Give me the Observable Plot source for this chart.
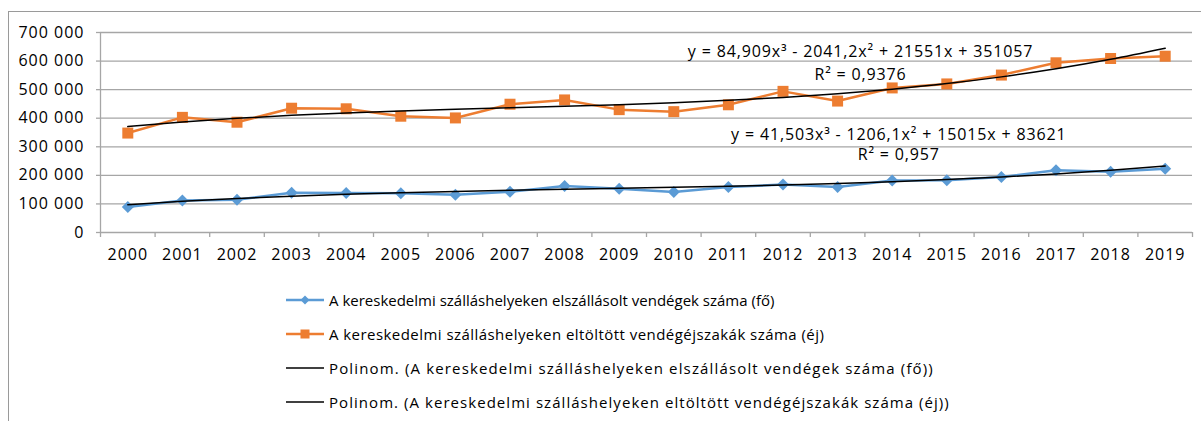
<!DOCTYPE html>
<html><head><meta charset="utf-8">
<script src="https://cdn.jsdelivr.net/npm/d3@7"></script>
<script src="https://cdn.jsdelivr.net/npm/@observablehq/plot@0.6"></script>
<style>
html,body{margin:0;padding:0;background:#fff}
body{width:1201px;height:421px;overflow:hidden;position:relative;font-family:"Open Sans",sans-serif;color:#000}
#frame{position:absolute;left:8px;top:11px;width:1300px;height:500px;border-left:1.3px solid #9a9a9a;border-top:1.3px solid #9a9a9a;box-sizing:border-box}
#chart{position:absolute;left:0;top:0}
#chart svg text{letter-spacing:1px}
#chart svg g[aria-label="text"] text{letter-spacing:0.85px}
.row{position:absolute;left:285px;height:24px;display:flex;align-items:center;white-space:nowrap;font-size:15px}
.row svg{margin-right:4px;flex:none}
</style></head>
<body>
<div id="frame"></div>
<div id="chart"></div>
<div id="legend"></div>
<script>
const years = [2000,2001,2002,2003,2004,2005,2006,2007,2008,2009,2010,2011,2012,2013,2014,2015,2016,2017,2018,2019];
const guests = [89000,112000,115000,139000,138000,137000,132000,143000,163000,153000,142000,159000,168000,159000,182000,183000,194000,218000,213000,223000];
const nights = [348000,403000,386000,435000,433000,407000,401000,449000,464000,430000,423000,447000,494000,460000,506000,520000,551000,594000,609000,617000];
const guestsTrend = [97470,109160,118930,127040,133730,139260,143860,147800,151320,154660,158090,161840,166170,171320,177550,185100,194220,205160,218170,232990];
const nightsTrend = [370650,386670,399630,410040,418400,425220,431020,436300,441580,447360,454150,462460,472800,485690,501620,521110,544680,572820,606040,644870];
const yTicks = [0,100000,200000,300000,400000,500000,600000,700000];
const seriesNames = [
  "A kereskedelmi szálláshelyeken elszállásolt vendégek száma (fő)",
  "A kereskedelmi szálláshelyeken eltöltött vendégéjszakák száma (éj)",
  "Polinom. (A kereskedelmi szálláshelyeken elszállásolt vendégek száma (fő))",
  "Polinom. (A kereskedelmi szálláshelyeken eltöltött vendégéjszakák száma (éj))"
];
const equations = [
  {text:"y = 84,909x³ - 2041,2x² + 21551x + 351057", r2:"R² = 0,9376"},
  {text:"y = 41,503x³ - 1206,1x² + 15015x + 83621", r2:"R² = 0,957"}
];

const rows = years.map((y,i)=>({year:y, guests:guests[i], nights:nights[i], gt:guestsTrend[i], nt:nightsTrend[i]}));
const bounds = years.map(y=>y-0.5).concat([years[years.length-1]+0.5]);
const fmt = d3.formatLocale({thousands:"\u00a0", grouping:[3], decimal:","}).format(",");
const BLUE="#5b9bd5", ORANGE="#ed7d31", GRID="#a6a6a6";

// annotation placement (data units)
const eqPos = [
  {x:2013.42, y:632000, y2:550000},
  {x:2014.12, y:343000, y2:270000}
];
const eqRows = equations.map((e,i)=>({...e, ...eqPos[i]}));

const plot = Plot.plot({
  width:1201, height:270,
  marginLeft:100, marginRight:9, marginTop:32, marginBottom:38,
  x:{domain:[1999.5,2019.5]},
  y:{domain:[0,700000]},
  style:{fontFamily:"Open Sans", fontSize:"16px", background:"transparent", color:"#000"},
  marks:[
    Plot.gridY(yTicks.slice(1), {stroke:GRID, strokeOpacity:1, strokeWidth:1.3}),
    Plot.ruleX([1999.5], {y1:0, y2:700000, stroke:GRID, strokeWidth:1.3}),
    Plot.ruleY([0], {stroke:GRID, strokeWidth:1.3}),
    Plot.axisY(yTicks, {tickSize:4, tickPadding:12, stroke:GRID, strokeWidth:1.3, fill:"#000", tickFormat:fmt, label:null}),
    Plot.axisX(bounds, {tickSize:5, stroke:GRID, strokeWidth:1.3, tickFormat:()=>"", label:null}),
    Plot.axisX(years, {tickSize:0, tickPadding:16, fill:"#000", tickFormat:d=>String(d), label:null}),
    Plot.line(rows, {x:"year", y:"guests", stroke:BLUE, strokeWidth:2.5}),
    Plot.dot(rows, {x:"year", y:"guests", symbol:"diamond2", r:5.4, fill:BLUE, stroke:null}),
    Plot.line(rows, {x:"year", y:"nights", stroke:ORANGE, strokeWidth:2.5}),
    Plot.dot(rows, {x:"year", y:"nights", symbol:"square", r:6.2, fill:ORANGE, stroke:null}),
    Plot.line(rows, {x:"year", y:"gt", stroke:"#000", strokeWidth:1.5, curve:"monotone-x"}),
    Plot.line(rows, {x:"year", y:"nt", stroke:"#000", strokeWidth:1.5, curve:"monotone-x"}),
    Plot.text(eqRows, {x:"x", y:"y", text:"text", fontSize:16, fill:"#000", textAnchor:"middle"}),
    Plot.text(eqRows, {x:"x", y:"y2", text:"r2", fontSize:16, fill:"#000", textAnchor:"middle"})
  ]
});
document.getElementById("chart").appendChild(plot);

// legend
const legendTops = [288, 322, 356, 390];
const legendSpacing = [0, 0.45, 1.15, 1.05];
const legend = document.getElementById("legend");
const symbols = [
  `<svg width="40" height="14"><line x1="1" y1="7" x2="39" y2="7" stroke="${BLUE}" stroke-width="2.5"/><path d="M20,2.5L24.5,7L20,11.5L15.5,7Z" fill="${BLUE}"/></svg>`,
  `<svg width="40" height="14"><line x1="1" y1="7" x2="39" y2="7" stroke="${ORANGE}" stroke-width="2.5"/><rect x="15.5" y="2.5" width="9" height="9" fill="${ORANGE}"/></svg>`,
  `<svg width="40" height="14"><line x1="1" y1="7" x2="39" y2="7" stroke="#000" stroke-width="1.5"/></svg>`,
  `<svg width="40" height="14"><line x1="1" y1="7" x2="39" y2="7" stroke="#000" stroke-width="1.5"/></svg>`
];
seriesNames.forEach((name,i)=>{
  const d = document.createElement("div");
  d.className = "row";
  d.style.top = legendTops[i] + "px";
  d.innerHTML = symbols[i] + "<span></span>";
  const s = d.querySelector("span");
  s.textContent = name;
  s.style.letterSpacing = legendSpacing[i] + "px";
  legend.appendChild(d);
});
</script>
</body></html>
